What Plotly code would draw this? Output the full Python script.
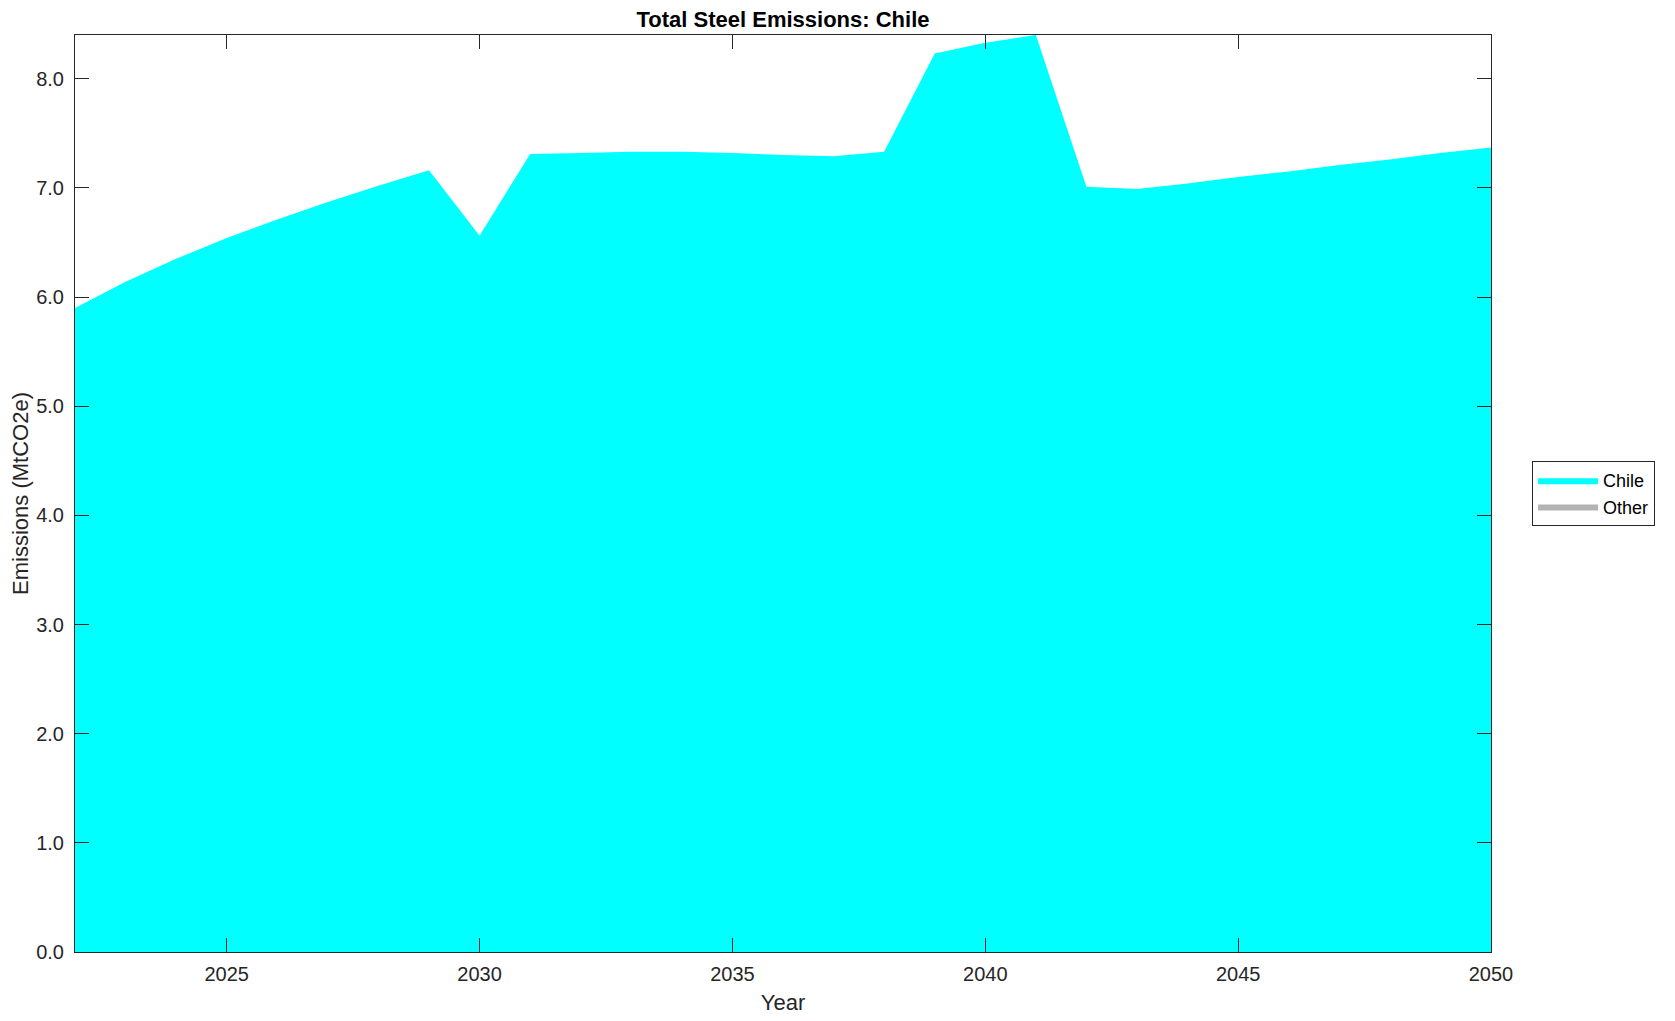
import plotly.graph_objects as go

years = list(range(2022, 2051))
chile = [5.90, 6.14, 6.35, 6.54, 6.71, 6.87, 7.02, 7.16, 6.56, 7.31,
         7.32, 7.33, 7.33, 7.32, 7.30, 7.29, 7.33, 8.23, 8.33, 8.40,
         7.01, 6.99, 7.04, 7.10, 7.15, 7.21, 7.26, 7.32, 7.37]
other = [0.0] * len(years)

FONT = "Liberation Sans, Arial, Helvetica, sans-serif"
AX = "#262626"

fig = go.Figure()
fig.add_trace(go.Scatter(x=years, y=chile, name="Chile", mode="lines",
                         stackgroup="one", line=dict(width=0, color="#00FFFF"),
                         fillcolor="#00FFFF"))
fig.add_trace(go.Scatter(x=years, y=other, name="Other", mode="lines",
                         stackgroup="one", line=dict(width=0, color="#B3B3B3"),
                         fillcolor="#B3B3B3"))

axis_common = dict(showline=True, linecolor=AX, linewidth=1, mirror="ticks",
                   ticks="inside", ticklen=14, tickcolor=AX, tickwidth=1,
                   showgrid=False, zeroline=False, automargin=False,
                   tickfont=dict(family=FONT, size=20, color=AX))

fig.update_layout(
    width=1675, height=1021,
    paper_bgcolor="white", plot_bgcolor="white",
    margin=dict(l=67, r=192, t=27, b=77),
    title=dict(text="<b>Total Steel Emissions: Chile</b>", x=0.5, xref="paper", xanchor="center",
               y=0.989, yanchor="middle",
               font=dict(family=FONT, size=22, color="black")),
    xaxis=dict(range=[2022, 2050], tickvals=[2025, 2030, 2035, 2040, 2045, 2050],
               ticklabelstandoff=4,
               title=dict(text="Year", font=dict(family=FONT, size=22, color=AX), standoff=10),
               **axis_common),
    yaxis=dict(range=[0, 8.4], tickvals=[0, 1, 2, 3, 4, 5, 6, 7, 8], tickformat=".1f",
               ticklabelstandoff=6,
               title=dict(text="Emissions (MtCO2e)", font=dict(family=FONT, size=22, color=AX), standoff=10),
               **axis_common),
    legend=dict(x=1.029, xanchor="left", y=0.5, yanchor="middle",
                bordercolor=AX, borderwidth=1, bgcolor="white",
                font=dict(family=FONT, size=18, color="black"),
                traceorder="normal", itemwidth=60, tracegroupgap=0),
    showlegend=True,
)

fig.write_html("out.html")
